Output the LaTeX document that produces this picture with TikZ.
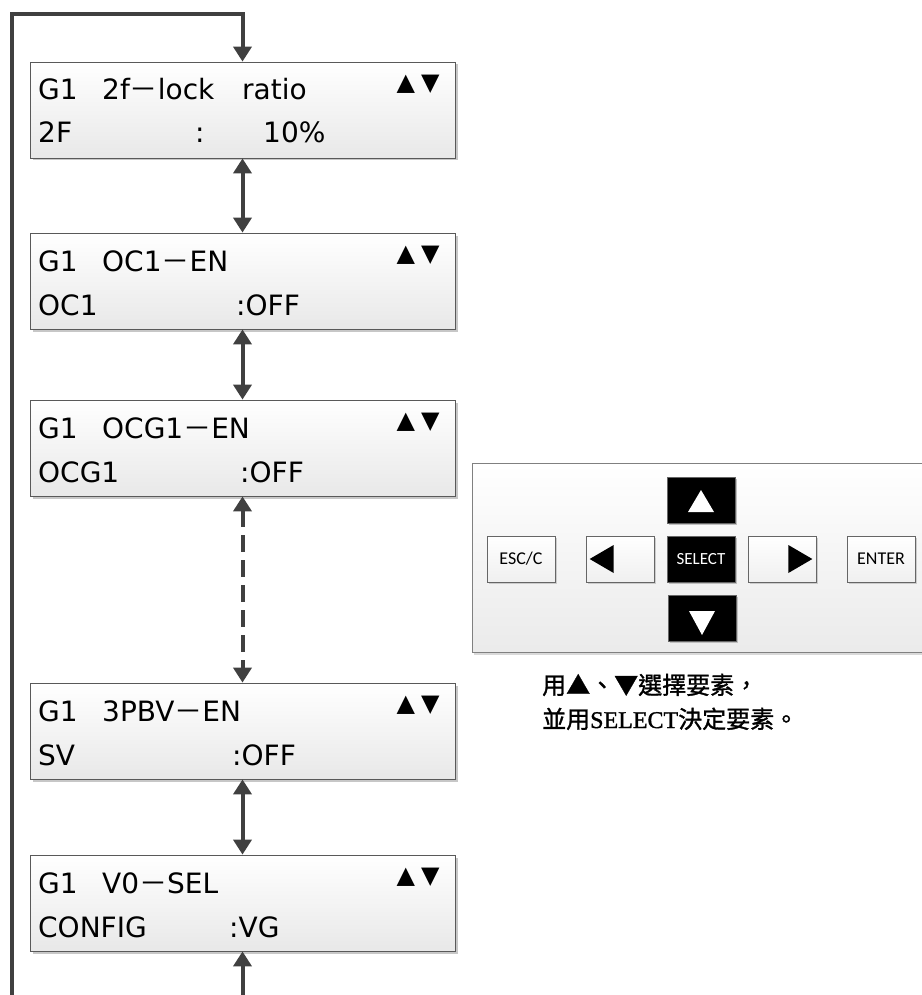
\documentclass[tikz,border=0pt]{standalone}
\usepackage{fontspec}
\setmainfont{DejaVu Sans}
\newfontfamily\cjkfont{Noto Sans CJK TC}
\newfontfamily\cjknote[FakeBold=1.3]{Noto Sans CJK TC}
\newfontfamily\dvsym{DejaVu Sans}
\newfontfamily\calfont{Carlito}
\newfontfamily\serfont[FakeBold=1.3]{Liberation Serif}
\usetikzlibrary{arrows.meta,shadows}
\newcommand{\fwdash}{{\cjkfont －}}
\definecolor{lnc}{HTML}{404040}
\tikzset{
  lcd/.style={draw=black!65, line width=0.8pt, top color=white, bottom color=black!9,
    minimum width=425pt, minimum height=96pt, inner sep=0pt,
    drop shadow={shadow xshift=2.5pt, shadow yshift=-2.5pt, fill=black!22, opacity=1}},
  txt/.style={anchor=base west, inner sep=0pt, font=\fontsize{28}{30}\selectfont},
  tri/.style={inner sep=0pt, font=\dvsym\fontsize{24}{26}\selectfont},
  conn/.style={draw=lnc, line width=4pt, -{Triangle[width=18pt,length=15pt]}},
  dbl/.style={draw=lnc, line width=4pt, {Triangle[width=18pt,length=15pt]}-{Triangle[width=18pt,length=15pt]}},
  panel/.style={draw=black!50, line width=0.8pt, top color=white, bottom color=black!8,
    minimum width=460pt, minimum height=189pt, inner sep=0pt,
    drop shadow={shadow xshift=2pt, shadow yshift=-2pt, fill=black!15, opacity=1}},
  btn/.style={draw=black!60, line width=0.7pt, top color=white, bottom color=black!6,
    minimum width=68pt, minimum height=46pt, inner sep=0pt,
    font=\calfont\fontsize{18}{20}\selectfont,
    drop shadow={shadow xshift=2pt, shadow yshift=-2pt, fill=black!20, opacity=1}},
  bbtn/.style={draw=black!60, line width=0.7pt, fill=black, text=white,
    minimum width=68pt, minimum height=46pt, inner sep=0pt,
    font=\calfont\fontsize{17}{20}\selectfont,
    drop shadow={shadow xshift=2pt, shadow yshift=-2pt, fill=black!25, opacity=1}},
  note/.style={anchor=base west, inner sep=0pt, font=\cjknote\fontsize{24}{26}\selectfont}
}
\begin{document}
\begin{tikzpicture}[x=1pt,y=-1pt]
\useasboundingbox (0,0) rectangle (921,995);

% LCD boxes
\node[lcd] (b1) at (242.5,110) {};
\node[lcd] (b2) at (242.5,281) {};
\node[lcd] (b3) at (242.5,448) {};
\node[lcd] (b4) at (242.5,731) {};
\node[lcd] (b5) at (242.5,903) {};

% box 1 texts
\node[txt] (b1a) at (38,100) {G1};
\node[txt] (b1b) at (102,100) {2f\fwdash lock};
\node[txt] (b1c) at (242,100) {ratio};
\node[txt] (b1d) at (38,143) {2F};
\node[txt] (b1e) at (195,143) {:};
\node[txt] (b1f) at (263,143) {10\%};
\node[tri] (b1g) at (418,84) {▲\hspace{6pt}▼};

% box 2 texts
\node[txt] (b2a) at (38,271) {G1};
\node[txt] (b2b) at (102,271) {OC1\fwdash EN};
\node[txt] (b2d) at (38,315) {OC1};
\node[txt] (b2e) at (236,315) {:OFF};
\node[tri] (b2g) at (418,255) {▲\hspace{6pt}▼};

% box 3 texts
\node[txt] (b3a) at (38,438) {G1};
\node[txt] (b3b) at (102,438) {OCG1\fwdash EN};
\node[txt] (b3d) at (38,482) {OCG1};
\node[txt] (b3e) at (240,482) {:OFF};
\node[tri] (b3g) at (418,422) {▲\hspace{6pt}▼};

% box 4 texts
\node[txt] (b4a) at (38,721) {G1};
\node[txt] (b4b) at (102,721) {3PBV\fwdash EN};
\node[txt] (b4d) at (38,765) {SV};
\node[txt] (b4e) at (232,765) {:OFF};
\node[tri] (b4g) at (418,705) {▲\hspace{6pt}▼};

% box 5 texts
\node[txt] (b5a) at (38,893) {G1};
\node[txt] (b5b) at (102,893) {V0\fwdash SEL};
\node[txt] (b5d) at (38,937) {CONFIG};
\node[txt] (b5e) at (229,937) {:VG};
\node[tri] (b5g) at (418,877) {▲\hspace{6pt}▼};

% connectors
\coordinate (lb) at (12,1000);
\coordinate (lt) at (12,14);
\coordinate (bt) at (242.5,1000);
\draw[conn, line join=miter] (lb) -- (lt) -| (b1.north);
\draw[dbl] (b1.south) -- (b2.north);
\draw[dbl] (b2.south) -- (b3.north);
\draw[dbl, dash pattern=on 17pt off 8pt] (b3.south) -- (b4.north);
\draw[dbl] (b4.south) -- (b5.north);
\draw[conn] (bt) -- (b5.south);

% key panel
\node[panel] (pnl) at (702,558) {};
\node[btn] (esc) at (521,559) {ESC/C};
\node[btn] (lft) at (620,559) {};
\node[bbtn] (sel) at (701,559) {SELECT};
\node[btn] (rgt) at (782,559) {};
\node[btn] (ent) at (881,559) {ENTER};
\node[bbtn] (up) at (701,500) {};
\node[bbtn] (dn) at (702,618) {};
\fill[white] (up.center) ++(-13,12) -- ++(26,0) -- ++(-13,-22) -- cycle;
\fill[white] (dn.center) ++(-13,-7) -- ++(26,0) -- ++(-13,24) -- cycle;
\fill[black] (lft.west) ++(4,0) -- ++(24,-14) -- ++(0,28) -- cycle;
\fill[black] (rgt.east) ++(-4,0) -- ++(-24,-14) -- ++(0,28) -- cycle;

% note text
\node[note] (n1) at (542,694) {用▲、▼選擇要素，};
\node[note] (n2) at (542,728) {並用{\serfont SELECT}決定要素。};
\end{tikzpicture}
\end{document}
